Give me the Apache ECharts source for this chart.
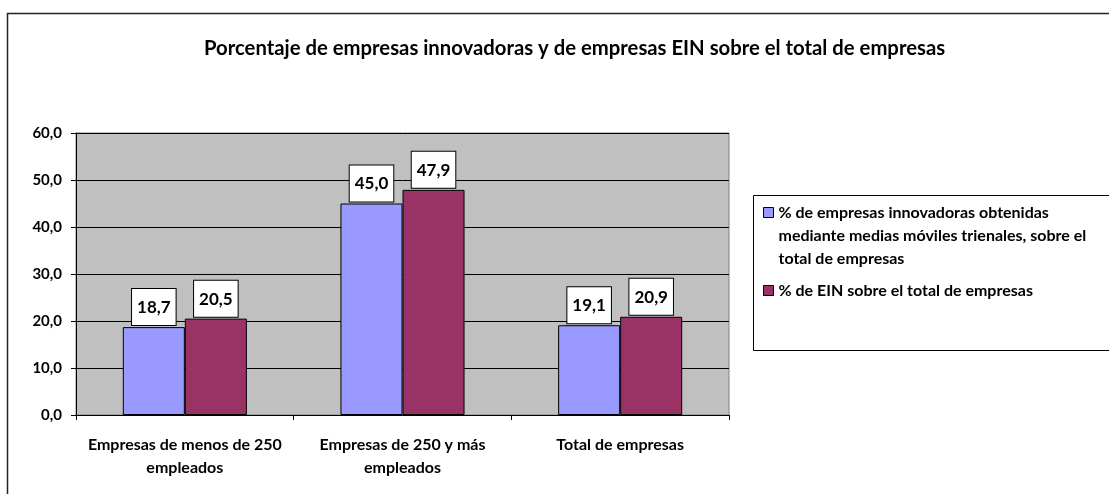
<!DOCTYPE html>
<html><head><meta charset="utf-8">
<script src="https://cdn.jsdelivr.net/npm/echarts@6/dist/echarts.min.js"></script>
<style>html,body{margin:0;padding:0;background:#fff}#c{width:1109px;height:494px}</style>
</head><body><div id="c"></div>
<script>
const categories = ['Empresas de menos de 250\nempleados', 'Empresas de 250 y más\nempleados', 'Total de empresas'];
const seriesNames = ['% de empresas innovadoras obtenidas mediante medias móviles trienales, sobre el total de empresas', '% de EIN sobre el total de empresas'];
const innovadoras = [18.7, 45.0, 19.1];
const ein = [20.5, 47.9, 20.9];
const yTicks = [0, 10, 20, 30, 40, 50, 60];

const FONT = 'Lato, "Open Sans", sans-serif';
const fmt = v => Number(v).toFixed(1).replace('.', ',');
const labelStyle = {
  show: true, position: 'top', distance: 2,
  formatter: p => fmt(p.value),
  backgroundColor: '#fff', borderColor: '#000', borderWidth: 1,
  padding: [10, 5, 9, 5], fontFamily: FONT, fontWeight: 'bold', fontSize: 17, color: '#000'
};
const chart = echarts.init(document.getElementById('c'));
chart.setOption({
  animation: false,
  backgroundColor: '#fff',
  title: {
    text: 'Porcentaje de empresas innovadoras y de empresas EIN sobre el total de empresas',
    left: 199, top: 33,
    textStyle: { fontFamily: FONT, fontWeight: 'bold', fontSize: 20.3, color: '#000' }
  },
  graphic: [
    { type: 'rect', shape: { x: 7.5, y: 13.5, width: 1200, height: 600 }, style: { fill: 'none', stroke: '#222', lineWidth: 1.5 }, z: 0 },
    { type: 'rect', shape: { x: 753.5, y: 195.5, width: 400, height: 155 }, style: { fill: '#fff', stroke: '#000', lineWidth: 1 }, z: 1 }
  ],
  legend: {
    orient: 'vertical', left: 758, top: 150, itemGap: 9,
    itemWidth: 10, itemHeight: 10, icon: 'rect', z: 5,
    itemStyle: { borderColor: '#000', borderWidth: 1 },
    textStyle: { fontFamily: FONT, fontWeight: 'bold', fontSize: 16, color: '#000', lineHeight: 23 },
    data: seriesNames,
    formatter: n => n === seriesNames[0] ? '\n\n% de empresas innovadoras obtenidas\nmediante medias móviles trienales, sobre el\ntotal de empresas' : n
  },
  grid: { left: 76, right: 380, top: 133, bottom: 79, show: true, backgroundColor: '#C0C0C0', borderColor: '#808080', borderWidth: 1 },
  xAxis: {
    type: 'category', data: categories,
    axisLine: { lineStyle: { color: '#000' } },
    axisTick: { show: true, length: 5, lineStyle: { color: '#000' } },
    axisLabel: { interval: 0, hideOverlap: false, margin: 18, fontFamily: FONT, fontWeight: 'bold', fontSize: 16, color: '#000', lineHeight: 23 }
  },
  yAxis: {
    type: 'value', min: yTicks[0], max: yTicks[yTicks.length - 1], interval: 10,
    axisLine: { show: true, lineStyle: { color: '#000' } },
    axisTick: { show: true, length: 5, lineStyle: { color: '#000' } },
    splitLine: { lineStyle: { color: '#000', width: 1 } },
    axisLabel: { margin: 14, formatter: v => fmt(v), fontFamily: FONT, fontWeight: 'bold', fontSize: 15, color: '#000' }
  },
  series: [
    { name: seriesNames[0], type: 'bar', data: innovadoras,
      barGap: '0%', barCategoryGap: '43%',
      itemStyle: { color: '#9999FF', borderColor: '#000', borderWidth: 1 }, label: labelStyle },
    { name: seriesNames[1], type: 'bar', data: ein,
      itemStyle: { color: '#993366', borderColor: '#000', borderWidth: 1 }, label: labelStyle }
  ]
});
</script></body></html>
